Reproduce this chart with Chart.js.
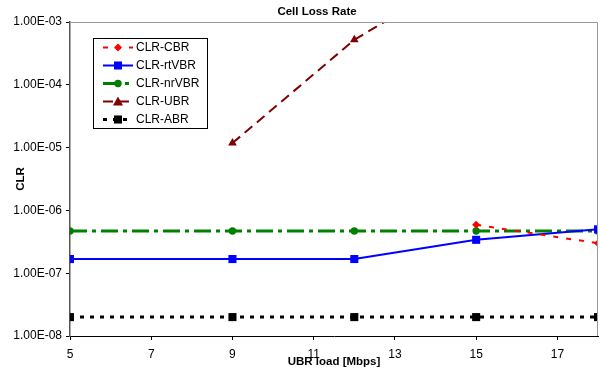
<!DOCTYPE html>
<html>
<head>
<meta charset="utf-8">
<script src="https://cdn.jsdelivr.net/npm/chart.js@4/dist/chart.umd.min.js"></script>
<style>
  html, body { margin: 0; padding: 0; background: #fff; }
  canvas { display: block; }
</style>
</head>
<body>
<canvas id="clrChart" width="600" height="373"></canvas>
<script>
// values (x = UBR load in Mbps)
const loadX = [5, 9, 12, 15, 18]
const cbrX = [15, 18]
const cbrVals = [5.9e-7, 3.0e-7]
const rtVbrVals = [1.68e-7, 1.68e-7, 1.68e-7, 3.4e-7, 5.0e-7]
const nrVbrVals = [4.7e-7, 4.7e-7, 4.7e-7, 4.7e-7, 4.7e-7]
const ubrX = [9, 12, 15]
const ubrVals = [1.18e-5, 5.2e-4, 7.5e-3]
const abrVals = [2e-8, 2e-8, 2e-8, 2e-8, 2e-8]

const xTicks = [5, 7, 9, 11, 13, 15, 17]
const yTicks = [1e-8, 1e-7, 1e-6, 1e-5, 1e-4, 1e-3]

const pairUp = (xs, ys) => xs.map((x, i) => ({ x: x, y: ys[i] }))

const FONT = 'Arial, "Liberation Sans", sans-serif'

const drawMarker = (ctx, style, r, x, y, color) => {
    ctx.save()
    ctx.fillStyle = color
    ctx.setLineDash([])
    ctx.beginPath()
    if (style === 'circle') {
        ctx.arc(x, y, r, 0, Math.PI * 2)
    } else if (style === 'rect') {
        const s = Math.SQRT1_2 * r
        ctx.rect(x - s, y - s, 2 * s, 2 * s)
    } else if (style === 'rectRot') {
        ctx.moveTo(x - r, y); ctx.lineTo(x, y - r); ctx.lineTo(x + r, y); ctx.lineTo(x, y + r)
        ctx.closePath()
    } else if (style === 'triangle') {
        ctx.moveTo(x, y - r); ctx.lineTo(x + r, y + r * 0.8); ctx.lineTo(x - r, y + r * 0.8)
        ctx.closePath()
    }
    ctx.fill()
    ctx.restore()
}

// title, axis titles, frame and legend box
const decorations = {
    id: 'decorations',
    afterDraw(chart) {
        const ctx = chart.ctx
        const a = chart.chartArea
        ctx.save()
        // grey frame on top/right
        ctx.strokeStyle = '#999'
        ctx.lineWidth = 1
        ctx.beginPath()
        ctx.moveTo(a.left, a.top + 0.5)
        ctx.lineTo(a.right - 0.5, a.top + 0.5)
        ctx.lineTo(a.right - 0.5, a.bottom)
        ctx.stroke()

        ctx.fillStyle = '#000'
        ctx.font = 'bold 11.5px ' + FONT
        ctx.textAlign = 'center'
        ctx.textBaseline = 'middle'
        ctx.fillText('Cell Loss Rate', 317, 12)
        ctx.fillText('UBR load [Mbps]', (a.left + a.right) / 2, 362)
        ctx.save()
        ctx.translate(21, (a.top + a.bottom) / 2)
        ctx.rotate(-Math.PI / 2)
        ctx.fillText('CLR', 0, 0)
        ctx.restore()

        // legend
        const bx = 93, by = 38, bw = 114, bh = 90
        ctx.fillStyle = '#fff'
        ctx.fillRect(bx, by, bw, bh)
        ctx.strokeStyle = '#000'
        ctx.lineWidth = 1
        ctx.strokeRect(bx + 0.5, by + 0.5, bw, bh)
        ctx.font = '12px ' + FONT
        ctx.textAlign = 'left'
        chart.data.datasets.forEach((ds, i) => {
            const y = 47.5 + i * 18
            ctx.save()
            ctx.strokeStyle = ds.borderColor
            ctx.lineWidth = ds.borderWidth
            ctx.setLineDash(ds.borderDash || [])
            ctx.beginPath()
            ctx.moveTo(103, y)
            ctx.lineTo(133, y)
            ctx.stroke()
            ctx.restore()
            drawMarker(ctx, ds.pointStyle, ds.pointRadius, 118, y, ds.pointBackgroundColor)
            ctx.fillStyle = '#000'
            ctx.fillText(ds.label, 136, y + 0.5)
        })
        ctx.restore()
    }
}

const makeSet = (label, data, color, width, dash, style, radius) => ({
    label: label,
    data: data,
    borderColor: color,
    backgroundColor: color,
    pointBackgroundColor: color,
    pointBorderColor: color,
    borderWidth: width,
    borderDash: dash,
    pointStyle: style,
    pointRadius: radius,
    pointBorderWidth: 0,
    fill: false,
    tension: 0,
})

const datasets = [
    makeSet('CLR-CBR', pairUp(cbrX, cbrVals), '#ff0000', 2, [5, 8], 'rectRot', 4),
    makeSet('CLR-rtVBR', pairUp(loadX, rtVbrVals), '#0000ff', 2, [], 'rect', 5.7),
    makeSet('CLR-nrVBR', pairUp(loadX, nrVbrVals), '#008000', 3, [17, 5, 4, 5], 'circle', 3.7),
    makeSet('CLR-UBR', pairUp(ubrX, ubrVals), '#800000', 2, [10, 6], 'triangle', 5),
    makeSet('CLR-ABR', pairUp(loadX, abrVals), '#000000', 3, [4, 6], 'rect', 5.7),
]

new Chart(document.getElementById('clrChart'), {
    type: 'line',
    data: { datasets: datasets },
    plugins: [decorations],
    options: {
        responsive: false,
        animation: false,
        layout: { autoPadding: false, padding: { top: 22, right: 2, bottom: 0, left: 0 } },
        plugins: {
            legend: { display: false },
            title: { display: false },
            tooltip: { enabled: false },
        },
        scales: {
            x: {
                type: 'linear',
                min: 5,
                max: 18,
                afterBuildTicks: (scale) => { scale.ticks = xTicks.map(v => ({ value: v })) },
                afterFit: (scale) => {
                    scale.height = 37
                    scale.paddingLeft = 0
                    scale.paddingRight = 0
                },
                grid: { drawOnChartArea: false, tickLength: 4, color: '#000' },
                border: { color: '#000', width: 1 },
                ticks: {
                    color: '#000',
                    font: { family: FONT, size: 12 },
                    padding: 7,
                    maxRotation: 0,
                },
            },
            y: {
                type: 'logarithmic',
                min: 1e-8,
                max: 1e-3,
                afterBuildTicks: (scale) => { scale.ticks = yTicks.map(v => ({ value: v })) },
                afterFit: (scale) => { scale.width = 70 },
                grid: { drawOnChartArea: false, tickLength: 4, color: '#000' },
                border: { color: '#555', width: 1.5 },
                ticks: {
                    color: '#000',
                    font: { family: FONT, size: 12 },
                    padding: 4,
                    callback: (v) => {
                        const e = Math.round(Math.log10(v))
                        return '1.00E-' + String(-e).padStart(2, '0')
                    },
                },
            },
        },
    },
})
</script>
</body>
</html>
